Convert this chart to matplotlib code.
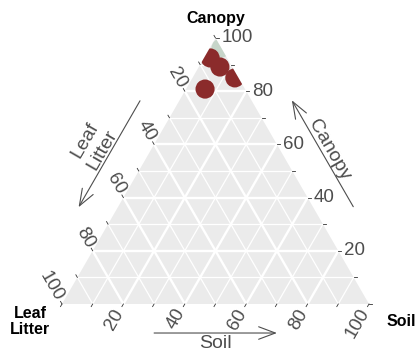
import numpy as np
import matplotlib.pyplot as plt
from matplotlib.patches import Polygon

plt.rcParams['font.family'] = ['Liberation Sans', 'DejaVu Sans']

# composition of each sample (%)
canopy = [96.2, 92.5, 89.1, 85.0, 80.8]
soil = [3.7, 2.0, 6.9, 13.8, 6.2]
litter = [0.1, 5.5, 4.0, 1.2, 13.0]
group = ['ref', 'site', 'site', 'site', 'site']
group_colors = {'ref': '#c6d5c9', 'site': '#8b2b2b'}

tick_labels = [20, 40, 60, 80, 100]
tick_marks = list(range(0, 101, 10))
grid_major = [20, 40, 60, 80]
grid_minor = [10, 30, 50, 70, 90]

H = np.sqrt(3) / 2
PX = 1 / 307.0          # data units per pixel
TXT = '#4d4d4d'


def tern(c, s, l):
    c, s, l = (np.asarray(v, dtype=float) for v in (c, s, l))
    tot = c + s + l
    return (s + c / 2) / tot, c / tot * H


fig = plt.figure(figsize=(4.15, 3.56), dpi=100)
ax = fig.add_axes([62 / 415, 52 / 356, 307 / 415, 266 / 356])
ax.set_xlim(0, 1)
ax.set_ylim(0, H)
ax.axis('off')

tri = Polygon([[0, 0], [1, 0], [0.5, H]], closed=True, fc='#ebebeb', ec='none', zorder=0)
ax.add_patch(tri)

# grid lines, one family per component
for vals, lw in [(grid_minor, 0.9), (grid_major, 1.7)]:
    for v in vals:
        w = 100 - v
        for p, q in [((v, 0, w), (v, w, 0)), ((0, v, w), (w, v, 0)), ((0, w, v), (w, 0, v))]:
            x, y = tern(*zip(p, q))
            ax.plot(x, y, color='white', lw=lw, zorder=1, solid_capstyle='butt')

# samples, clipped to the triangle
px, py = tern(canopy, soil, litter)
sc = ax.scatter(px, py, s=190, c=[group_colors[g] for g in group], lw=0, zorder=3)
sc.set_clip_path(tri)

# axis definitions: point on the edge, outward direction, label rotation
axes_def = {
    'canopy': (lambda v: tern(v, 100 - v, 0), (1.0, 0.0), 0, 'left', 6),
    'soil': (lambda v: tern(0, v, 100 - v), (-0.5, -H), 60, 'right', 7),
    'litter': (lambda v: tern(100 - v, 0, v), (-0.5, H), -60, 'right', 5),
}

for name, (edge, (dx, dy), rot, ha, gap) in axes_def.items():
    for v in tick_marks:
        x, y = edge(v)
        ax.plot([x, x + dx * 3 * PX], [y, y + dy * 3 * PX], color='#333333',
                lw=0.6, zorder=2, clip_on=False)
    for v in tick_labels:
        x, y = edge(v)
        ax.text(x + dx * gap * PX, y + dy * gap * PX, str(v), rotation=rot,
                rotation_mode='anchor', ha=ha, va='center', fontsize=13.5,
                color=TXT, clip_on=False)

# direction arrows beside each edge
arrow_kw = dict(arrowstyle='->,head_length=1.2,head_width=0.45', color=TXT, lw=0.8,
                shrinkA=0, shrinkB=0)


def edge_arrow(edge, start, end, normal, dist, label, rot, ha, va, lgap):
    nx, ny = normal
    x0, y0 = edge(start)
    x1, y1 = edge(end)
    ox, oy = nx * dist * PX, ny * dist * PX
    ax.annotate('', xy=(x1 + ox, y1 + oy), xytext=(x0 + ox, y0 + oy),
                arrowprops=arrow_kw, annotation_clip=False)
    mx, my = (x0 + x1) / 2 + ox + nx * lgap * PX, (y0 + y1) / 2 + oy + ny * lgap * PX
    ax.text(mx, my, label, rotation=rot, rotation_mode='anchor', ha=ha, va=va,
            fontsize=14, color=TXT, linespacing=1.2, clip_on=False)


edge_arrow(axes_def['litter'][0], 30, 70, (-H, 0.5), 34, 'Leaf\nLitter', 60, 'center', 'bottom', 0)
edge_arrow(axes_def['canopy'][0], 30, 70, (H, 0.5), 35, 'Canopy', -60, 'center', 'bottom', -1)
edge_arrow(axes_def['soil'][0], 30, 70, (0, -1), 29, 'Soil', 0, 'center', 'top', 2)

# vertex titles
vx, vy = tern(100, 0, 0)
ax.text(vx, vy + 15 * PX, 'Canopy', ha='center', va='baseline', fontsize=11.5,
        fontweight='bold', clip_on=False)
vx, vy = tern(0, 0, 100)
ax.text(vx - 32 * PX, vy - 17.5 * PX, 'Leaf\nLitter', ha='center', va='center',
        fontsize=11.5, fontweight='bold', linespacing=1.05, clip_on=False)
vx, vy = tern(0, 100, 0)
ax.text(vx + 18 * PX, vy - 17 * PX, 'Soil', ha='left', va='center', fontsize=11.5,
        fontweight='bold', clip_on=False)

fig.savefig('out.png', dpi=100)
